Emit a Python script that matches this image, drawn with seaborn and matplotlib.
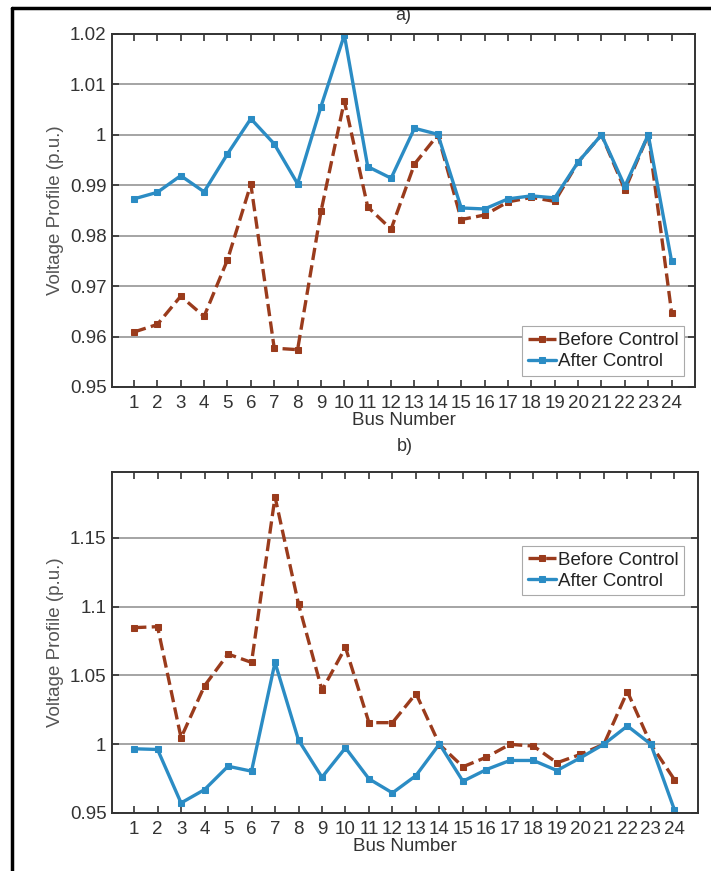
import numpy as np
import pandas as pd
import matplotlib
matplotlib.use("Agg")
import matplotlib.pyplot as plt
import seaborn as sns

bus = list(range(1, 25))

# panel a)
before_a = [0.9609, 0.9624, 0.9680, 0.9640, 0.9752, 0.9902, 0.9577, 0.9574, 0.9848, 1.0067,
            0.9857, 0.9813, 0.9942, 1.0000, 0.9832, 0.9841, 0.9867, 0.9876, 0.9868, 0.9946,
            1.0000, 0.9891, 1.0000, 0.9647]
after_a = [0.9873, 0.9886, 0.9919, 0.9887, 0.9962, 1.0032, 0.9982, 0.9903, 1.0056, 1.0198,
           0.9937, 0.9914, 1.0013, 1.0001, 0.9855, 0.9853, 0.9873, 0.9879, 0.9875, 0.9946,
           1.0000, 0.9898, 1.0000, 0.9749]

# panel b)
before_b = [1.0848, 1.0855, 1.0047, 1.0425, 1.0656, 1.0595, 1.1799, 1.1020, 1.0393, 1.0704,
            1.0157, 1.0157, 1.0369, 0.9998, 0.9836, 0.9906, 0.9999, 0.9987, 0.9865, 0.9926,
            1.0000, 1.0383, 1.0000, 0.9743]
after_b = [0.9967, 0.9962, 0.9573, 0.9670, 0.9840, 0.9804, 1.0595, 1.0030, 0.9760, 0.9974,
           0.9748, 0.9646, 0.9772, 1.0002, 0.9731, 0.9816, 0.9882, 0.9882, 0.9809, 0.9901,
           1.0000, 1.0133, 1.0000, 0.9524]

yticks_a = [0.95, 0.96, 0.97, 0.98, 0.99, 1.0, 1.01, 1.02]
ylabels_a = ["0.95", "0.96", "0.97", "0.98", "0.99", "1", "1.01", "1.02"]
yticks_b = [0.95, 1.0, 1.05, 1.1, 1.15]
ylabels_b = ["0.95", "1", "1.05", "1.1", "1.15"]

c_before = "#9a3b1c"
c_after = "#2b8cc4"

sns.set_style("ticks")
plt.rcParams["font.family"] = ["Liberation Sans", "DejaVu Sans"]

fig = plt.figure(figsize=(7.11, 8.71), dpi=100)
ax1 = fig.add_axes([0.1575, 0.5557, 0.820, 0.4053])
ax2 = fig.add_axes([0.1575, 0.0666, 0.824, 0.3915])


def draw(ax, before, after, ylim, yticks, ylabels, title, title_pad, legend_kw):
    df = pd.DataFrame({"Bus": bus * 2,
                       "V": before + after,
                       "Series": ["Before Control"] * 24 + ["After Control"] * 24})
    ax.yaxis.grid(True, color="#8c8c8c", lw=1.1)
    ax.set_axisbelow(True)
    sns.lineplot(data=df[df.Series == "Before Control"], x="Bus", y="V", ax=ax,
                 color=c_before, lw=2.4, linestyle="--", marker="s", markersize=5,
                 markeredgecolor=c_before, label="Before Control")
    sns.lineplot(data=df[df.Series == "After Control"], x="Bus", y="V", ax=ax,
                 color=c_after, lw=2.4, marker="s", markersize=5,
                 markeredgecolor=c_after, label="After Control")
    ax.set_xlim(0.06, 25.0)
    ax.set_ylim(*ylim)
    ax.set_xticks(bus)
    ax.set_xticklabels([str(b) for b in bus], fontsize=13.5, color="#222222")
    ax.set_yticks(yticks)
    ax.set_yticklabels(ylabels, fontsize=13.5, color="#333333")
    ax.tick_params(direction="in", top=True, right=True, length=5, width=1.2,
                   colors="#333333", pad=4)
    ax.tick_params(axis="x", pad=6)
    for s in ax.spines.values():
        s.set_color("#333333")
        s.set_linewidth(1.4)
    ax.set_xlabel("Bus Number", fontsize=13.5, color="#333333", labelpad=0)
    ax.set_ylabel("Voltage Profile (p.u.)", fontsize=13.5, color="#555555", labelpad=4)
    ax.set_title(title, fontsize=13, color="#333333", pad=title_pad)
    leg = ax.legend(fontsize=13.5, handlelength=1.5, handletextpad=0.1,
                    borderpad=0.3, labelspacing=0.2, fancybox=False, framealpha=1,
                    **legend_kw)
    leg.get_frame().set_edgecolor("#aaaaaa")
    leg.get_frame().set_linewidth(0.8)
    for t in leg.get_texts():
        t.set_color("#222222")


draw(ax1, before_a, after_a, (0.95, 1.02), yticks_a, ylabels_a, "a)", 10,
     dict(loc="lower right", borderaxespad=0.6))
draw(ax2, before_b, after_b, (0.95, 1.198), yticks_b, ylabels_b, "b)", 15,
     dict(loc="upper left", bbox_to_anchor=(0.70, 0.783), borderaxespad=0))

# frame around figure (top-left), clipping the first title
fig.patches.append(plt.Rectangle((0, 1 - 8 / 871), 1, 8 / 871, transform=fig.transFigure,
                                 color="white", zorder=5))
fig.add_artist(plt.Line2D([12 / 711, 12 / 711], [0, 1 - 8 / 871], color="black", lw=2.5,
                          transform=fig.transFigure, zorder=6))
fig.add_artist(plt.Line2D([12 / 711, 1], [1 - 8 / 871, 1 - 8 / 871], color="black", lw=2.5,
                          transform=fig.transFigure, zorder=6))

fig.savefig("out.png", dpi=100)
